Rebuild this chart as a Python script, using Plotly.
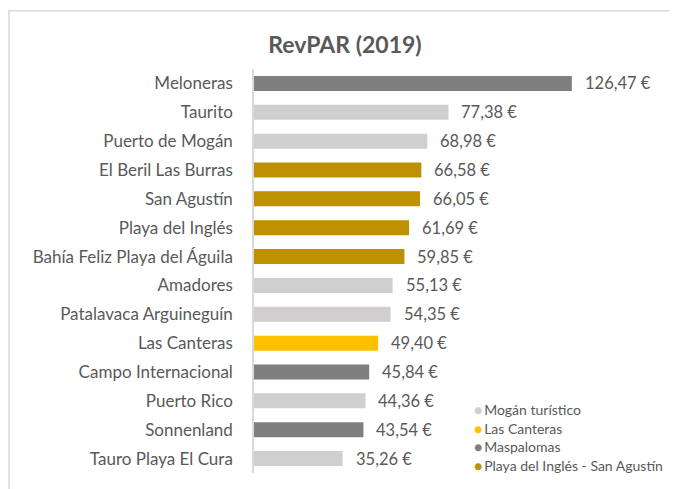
import plotly.graph_objects as go

categories = ["Meloneras", "Taurito", "Puerto de Mogán", "El Beril Las Burras", "San Agustín",
              "Playa del Inglés", "Bahía Feliz Playa del Águila", "Amadores", "Patalavaca Arguineguín",
              "Las Canteras", "Campo Internacional", "Puerto Rico", "Sonnenland", "Tauro Playa El Cura"]
revpar = [126.47, 77.38, 68.98, 66.58, 66.05, 61.69, 59.85, 55.13, 54.35, 49.40, 45.84, 44.36, 43.54, 35.26]
zones = ["Maspalomas", "Mogán turístico", "Mogán turístico", "Playa del Inglés - San Agustín",
         "Playa del Inglés - San Agustín", "Playa del Inglés - San Agustín", "Playa del Inglés - San Agustín",
         "Mogán turístico", "Mogán turístico", "Las Canteras", "Maspalomas", "Mogán turístico",
         "Maspalomas", "Mogán turístico"]
legend_order = ["Mogán turístico", "Las Canteras", "Maspalomas", "Playa del Inglés - San Agustín"]
zone_colors = {"Mogán turístico": "#d0cece", "Las Canteras": "#ffc000",
               "Maspalomas": "#7f7f7f", "Playa del Inglés - San Agustín": "#bf9000"}

FONT = "Lato, Open Sans, sans-serif"
OFF = 8  # page offset of the figure inside the browser window
labels = [f"{v:.2f}".replace(".", ",") + " €" for v in revpar]

# plot area in figure pixels
L, T, B = 254 - OFF, 68.5 - OFF, 473.5 - OFF
W, H = 377, B - T

fig = go.Figure()
fig.add_trace(go.Bar(
    x=revpar, y=categories, orientation="h",
    marker=dict(color=[zone_colors[z] for z in zones], line=dict(width=0)),
    showlegend=False, hoverinfo="x+y",
))

annotations = []
for c, v, t in zip(categories, revpar, labels):
    annotations.append(dict(x=v, y=c, xref="x", yref="y", text=t, showarrow=False,
                            xanchor="left", xshift=11, font=dict(size=16.5, color="#595959", family=FONT)))
for i, z in enumerate(legend_order):
    annotations.append(dict(x=(472 - OFF - L) / W, y=(B - (410 - OFF + i * 18.7)) / H,
                            xref="paper", yref="paper", xanchor="left", yanchor="middle",
                            showarrow=False,
                            text=f"<span style='color:{zone_colors[z]}'>●</span>\u2009{z}",
                            font=dict(size=14, color="#595959", family=FONT)))

fig.update_layout(
    width=677, height=489,
    margin=dict(l=L, r=677 - L - W, t=T, b=489 - B),
    paper_bgcolor="white", plot_bgcolor="white",
    title=dict(text="<b>RevPAR (2019)</b>", x=(345 - OFF) / 677, xref="container", xanchor="center",
               y=1 - (45 - OFF) / 489, yref="container", yanchor="middle",
               font=dict(size=23, color="#595959", family=FONT)),
    bargap=0.48,
    xaxis=dict(range=[0, 150], visible=False, fixedrange=True),
    yaxis=dict(categoryorder="array", categoryarray=categories, autorange="reversed",
               showline=True, linecolor="#d9d9d9", linewidth=1.5, showgrid=False,
               ticks="", ticklabelstandoff=16,
               tickfont=dict(size=17, color="#595959", family=FONT)),
    annotations=annotations,
    shapes=[dict(type="rect", xref="paper", yref="paper",
                 x0=(1 - L) / W, x1=(690 - L) / W,
                 y0=(B - 500) / H, y1=(B - (10 - OFF)) / H,
                 line=dict(color="#d9d9d9", width=1.5), fillcolor="rgba(0,0,0,0)", layer="below")],
    showlegend=False,
)
fig.write_html("out.html")
